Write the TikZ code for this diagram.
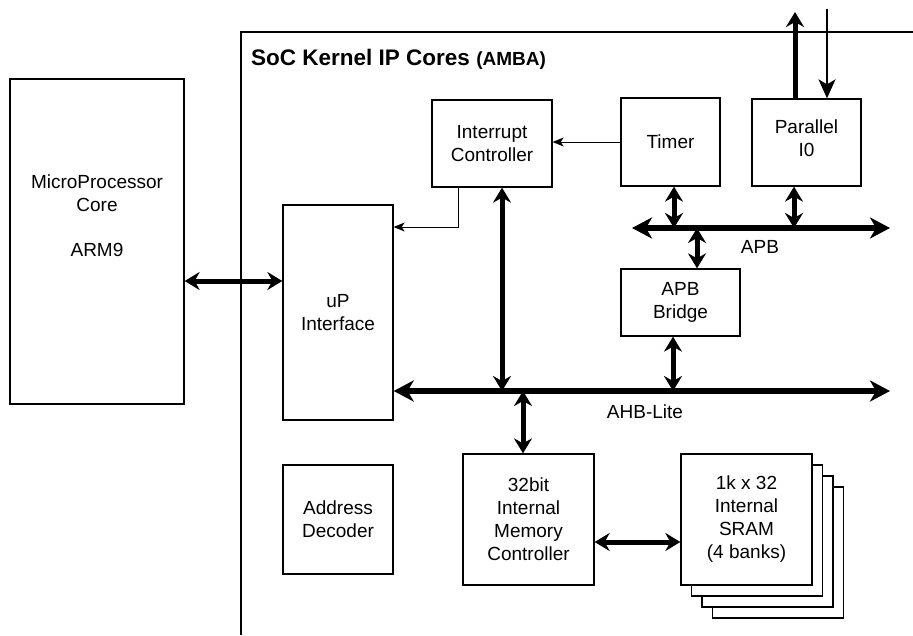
\documentclass[tikz,border=0pt]{standalone}
\usepackage{fontspec}
\setmainfont{Liberation Sans}
\usetikzlibrary{arrows.meta,calc}

\tikzset{
  blk/.style={draw, line width=1.3pt, fill=white, inner sep=0pt, align=center,
              font=\fontsize{19}{23}\selectfont},
  lbl/.style={inner sep=0pt, align=center, font=\fontsize{19}{23}\selectfont},
  bus/.style={line width=6pt,
              {Stealth[length=20pt,width=21pt,inset=6pt]}-{Stealth[length=20pt,width=21pt,inset=6pt]}},
  link/.style={line width=5pt,
              {Stealth[length=15pt,width=18pt,inset=5pt]}-{Stealth[length=15pt,width=18pt,inset=5pt]}},
  outarrow/.style={line width=5pt, -{Stealth[length=15pt,width=18pt,inset=5pt]}},
  inarrow/.style={line width=2pt, -{Stealth[length=19pt,width=17pt,inset=5pt]}},
  sig/.style={line width=1pt, -{Stealth[length=11pt,width=9pt,inset=3pt]}},
}

\begin{document}
\begin{tikzpicture}[x=1pt, y=-1pt]
  \useasboundingbox (0,0) rectangle (913,635);

  % outer frame of the SoC kernel
  \draw[line width=1.3pt] (241,635) |- (913,32);
  \node[anchor=base west, inner sep=0pt] (title) at (251,65)
    {\fontsize{22.5}{26}\selectfont\bfseries SoC Kernel IP Cores \fontsize{19}{22}\selectfont(AMBA)};

  % processor core
  \node[blk, minimum width=174pt, minimum height=325pt] (mp) at (97,241.5) {};
  \node[lbl] (mptext) at (97,216) {MicroProcessor\\Core\\[22pt]ARM9};

  % IP blocks
  \node[blk, minimum width=110pt, minimum height=215pt] (up) at (338,312.5) {uP\\Interface};
  \node[blk, minimum width=120pt, minimum height=87pt] (intc) at (492,143.5) {Interrupt\\Controller};
  \node[blk, minimum width=99pt, minimum height=88pt] (timer) at (670.5,142) {Timer};
  \node[blk, minimum width=109pt, minimum height=87pt] (pio) at (806.5,142.5) {};
  \node[lbl] (piotext) at (806.5,138.5) {Parallel\\I0};
  \node[blk, minimum width=119pt, minimum height=67pt] (bridge) at (680.5,302.5) {APB\\Bridge};
  \node[blk, minimum width=110pt, minimum height=109pt] (addr) at (338,519.5) {Address\\Decoder};
  \node[blk, minimum width=131pt, minimum height=131pt] (memc) at (528.5,519.5) {32bit\\Internal\\Memory\\Controller};

  % SRAM banks, back to front
  \node[blk, minimum width=131pt, minimum height=131pt] (bank4) at (778,552.5) {};
  \node[blk, minimum width=131pt, minimum height=131pt] (bank3) at (767.5,541.5) {};
  \node[blk, minimum width=131pt, minimum height=131pt] (bank2) at (757,530.5) {};
  \node[blk, minimum width=131pt, minimum height=131pt] (sram) at (746.5,519.5) {1k x 32\\Internal\\SRAM\\(4 banks)};

  % buses
  \coordinate (ahbR) at (890,391);
  \coordinate (apbL) at (632,228);
  \coordinate (apbR) at (890,228);
  \draw[bus] (up.east |- ahbR) -- (ahbR);
  \draw[bus] (apbL) -- (apbR);
  \node[lbl] (ahblabel) at (645,412) {AHB-Lite};
  \node[lbl] (apblabel) at (760,247) {APB};

  % bus connections
  \draw[link] ([yshift=-39.5pt]mp.east) -- ([yshift=-39.5pt]mp.east -| up.west);
  \draw[link] ([xshift=10pt]intc.south) -- ([xshift=10pt]intc.south |- ahbR);
  \draw[link] ([xshift=-5.5pt]memc.north) -- ([xshift=-5.5pt]memc.north |- ahbR);
  \draw[link] ([xshift=-7.5pt]bridge.south) -- ([xshift=-7.5pt]bridge.south |- ahbR);
  \draw[link] ([xshift=16.5pt]bridge.north) -- ([xshift=16.5pt]bridge.north |- apbL);
  \draw[link] ([xshift=3.5pt]timer.south) -- ([xshift=3.5pt]timer.south |- apbL);
  \draw[link] ([xshift=-12.5pt]pio.south) -- ([xshift=-12.5pt]pio.south |- apbL);
  \draw[link] ([yshift=-22.5pt]memc.east) -- ([yshift=-22.5pt]memc.east -| sram.west);

  % parallel port lines
  \coordinate (pioOut) at (795,12);
  \coordinate (pioIn) at (827,9);
  \draw[outarrow] ([xshift=-11.5pt]pio.north) -- (pioOut);
  \draw[inarrow] (pioIn) -- (pioIn |- pio.north);

  % interrupt signals
  \draw[sig] (timer.west) -- (timer.west -| intc.east);
  \draw[sig] ([xshift=-34pt]intc.south) |- ([yshift=85.5pt]up.east);
\end{tikzpicture}
\end{document}
